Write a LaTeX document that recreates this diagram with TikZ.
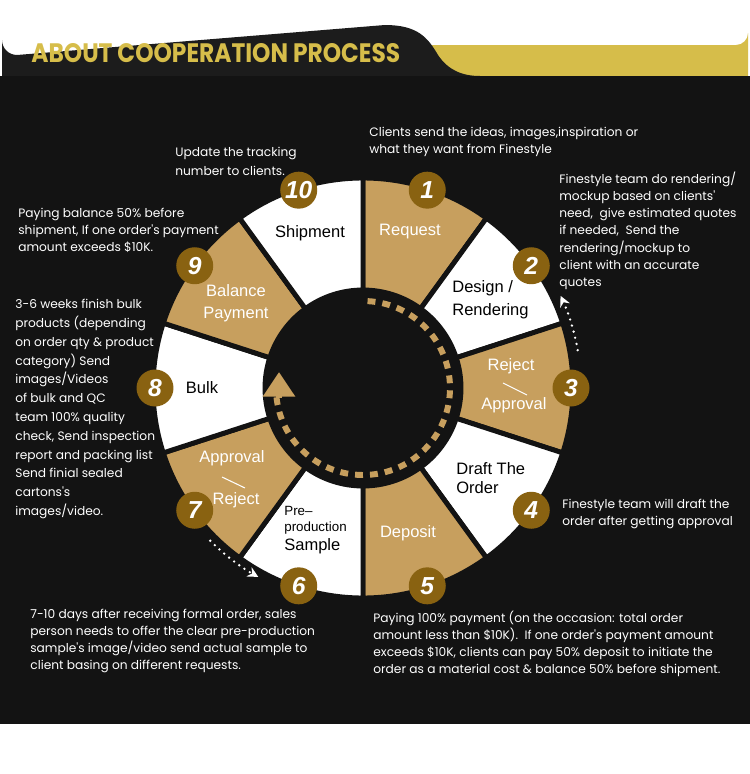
\documentclass[tikz,border=0pt]{standalone}
\usepackage{fontspec}
\usepackage{graphicx}
\setmainfont{Liberation Sans}
\newfontfamily\descfont{Poppins}
\newfontfamily\titlefont{Poppins}
\usetikzlibrary{arrows.meta,calc}
\definecolor{bgdark}{RGB}{19,19,19}
\definecolor{tabdark}{RGB}{28,28,28}
\definecolor{bargold}{RGB}{214,189,74}
\definecolor{seggold}{RGB}{199,159,94}
\definecolor{badgebrown}{RGB}{137,98,17}
\tikzset{
  goldseg/.style={fill=seggold, draw=bgdark, line width=2.8pt},
  whiteseg/.style={fill=white, draw=bgdark, line width=2.8pt},
  badge/.style={circle, fill=badgebrown, minimum size=0.74cm, inner sep=0pt,
    text=white, font=\fontsize{14}{14}\selectfont\bfseries\itshape},
  seglbl/.style={inner sep=0pt, align=left,
    font=\fontsize{9.4}{13}\selectfont},
  desc/.style={anchor=north west, inner sep=0pt, align=left, text=white,
    font=\descfont\fontsize{6.95}{9.7}\selectfont},
  sepline/.style={draw=white, line width=0.6pt},
  dashring/.style={draw=seggold, line width=3.4pt, dash pattern=on 4.5pt off 4pt},
  ringtip/.style={draw=seggold, line width=3.4pt,
    -{Triangle[length=14pt, width=17.6pt]}},
  dotarr/.style={draw=white, line width=1.5pt, line cap=round,
    dash pattern=on 0pt off 3.6pt, -{Stealth[length=6pt, width=6pt]}}
}

\begin{document}
\begin{tikzpicture}[x=0.02cm, y=-0.02cm]
\useasboundingbox (0,0) rectangle (750,774);
\fill[white] (0,0) rectangle (750,774);

%% Header
\fill[bargold] (420,76) -- (420,45) -- (736,45)
  arc[start angle=90, end angle=0, radius=12] -- (748,76) -- cycle;
\fill[tabdark] (2,76) -- (2,40) arc[start angle=180, end angle=90, radius=15]
  -- (385,25) .. controls (418,25) and (428,38) .. (438,55)
  .. controls (448,70) and (462,76) .. (480,76) -- cycle;
\fill[bgdark] (0,76) rectangle (750,724);
\node[anchor=base west, inner sep=0pt, text=bargold] (title) at (31,62)
  {\resizebox{7.38cm}{0.38cm}{\titlefont\bfseries ABOUT COOPERATION PROCESS}};

%% Wheel
\begin{scope}[shift={(363,388)}, y=0.02cm]
  \foreach \a/\s in {90/goldseg,54/whiteseg,18/goldseg,-18/whiteseg,-54/goldseg,
      -90/whiteseg,-126/goldseg,-162/whiteseg,-198/goldseg,-234/whiteseg}
    \draw[\s] (\a:98) arc[start angle=\a, end angle=\a-36, radius=98]
      -- (\a-36:210) arc[start angle=\a-36, end angle=\a, radius=210] -- cycle;
  %% inner loop
  \draw[dashring] (87:87) arc[start angle=87, end angle=-174, radius=87];
  \coordinate (tipfoot) at (-84,-10);
  \coordinate (tiphead) at (-84,16);
  \draw[ringtip] (tipfoot) -- (tiphead);
  %% back arrows
  \coordinate (back3) at (10:218);
  \coordinate (back7) at (225:216);
  \draw[dotarr] (back3) arc[start angle=10, end angle=25, radius=218];
  \draw[dotarr] (back7) arc[start angle=225, end angle=241, radius=216];
  \foreach \n/\a in {1/72,2/36,3/0,4/-36,5/-72,6/-108,7/-144,8/180,9/144,10/108}
    \node[badge] (b\n) at (\a:208) {\n};
\end{scope}

%% Segment labels
\node[seglbl, text=white] (request) at (410,232) {Request};
\node[seglbl, anchor=west] (design) at (452,300) {Design /\\Rendering};
\node[seglbl, text=white] (reject1) at (511,366) {Reject};
\draw[sepline] (503,383) -- (527,395);
\node[seglbl, text=white] (approval1) at (514,405) {Approval};
\node[seglbl, anchor=west, font=\fontsize{9.4}{10.8}\selectfont] (draft) at (456,478) {Draft The\\Order};
\node[seglbl, text=white] (deposit) at (408,533) {Deposit};
\node[seglbl, anchor=west, font=\fontsize{7.6}{9}\selectfont] (pre) at (284,520) {Pre--\\production};
\node[seglbl, anchor=west] (sample) at (284,546) {Sample};
\node[seglbl, text=white] (approval2) at (232,458) {Approval};
\draw[sepline] (222,477) -- (245,488);
\node[seglbl, text=white] (reject2) at (236,500) {Reject};
\node[seglbl] (bulk) at (202,388) {Bulk};
\node[seglbl, text=white, align=center, font=\fontsize{9.4}{12.5}\selectfont] (balance) at (236,303) {Balance\\Payment};
\node[seglbl] (shipment) at (310,233) {Shipment};

%% Descriptions
\node[desc] (d1) at (369,127) {Clients send the ideas, images,inspiration or\\what they want from Finestyle};
\node[desc] (d2) at (559,172) {Finestyle team do rendering/\\mockup based on clients'\\need,~ give estimated quotes\\if needed,~ Send the\\rendering/mockup to\\client with an accurate\\quotes};
\node[desc] (d4) at (562,499) {Finestyle team will draft the\\order after getting approval};
\node[desc] (d5) at (373,611) {Paying 100\% payment (on the occasion: total order\\amount less than \$10K).~ If one order's payment amount\\exceeds \$10K, clients can pay 50\% deposit to initiate the\\order as a material cost \& balance 50\% before shipment.};
\node[desc] (d6) at (30,609) {7-10 days after receiving formal order, sales\\person needs to offer the clear pre-production\\sample's image/video send actual sample to\\client basing on different requests.};
\node[desc, font=\descfont\fontsize{6.95}{10.7}\selectfont] (d8) at (15,299) {3-6 weeks finish bulk\\products (depending\\on order qty \& product\\category) Send\\images/Videos\\of bulk and QC\\team 100\% quality\\check, Send inspection\\report and packing list\\Send finial sealed\\cartons's\\images/video.};
\node[desc] (d9) at (18,208) {Paying balance 50\% before\\shipment, If one order's payment\\amount exceeds \$10K.};
\node[desc, font=\descfont\fontsize{6.95}{10.8}\selectfont] (d10) at (175,147) {Update the tracking\\number to clients.};

\end{tikzpicture}
\end{document}
